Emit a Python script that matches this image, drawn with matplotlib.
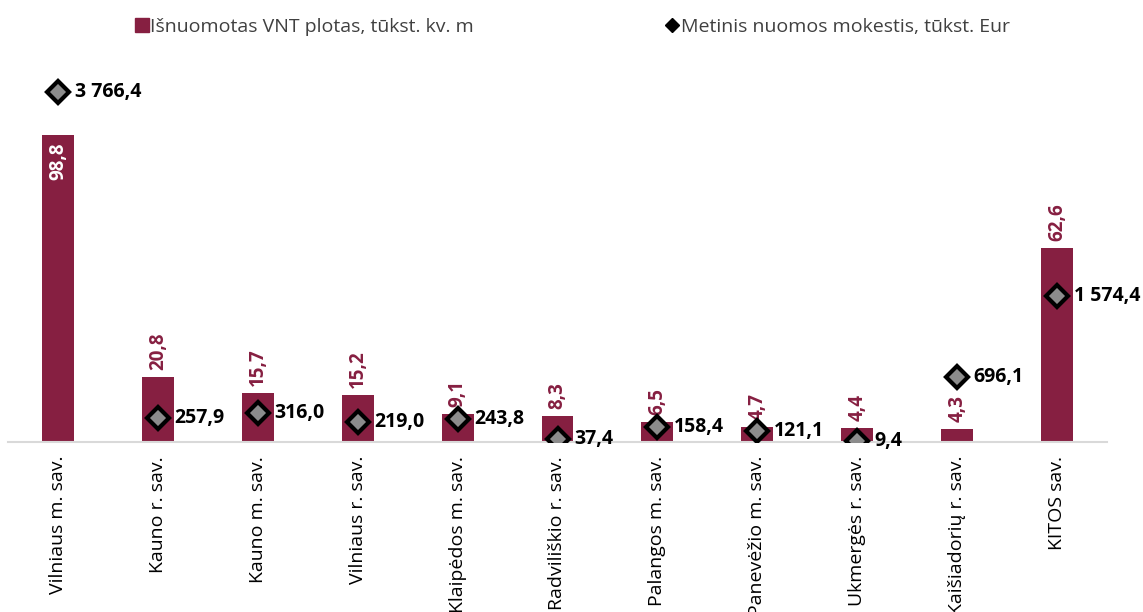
import matplotlib.pyplot as plt
from matplotlib.lines import Line2D
import numpy as np

plt.rcParams['font.family'] = ['Open Sans', 'DejaVu Sans']

categories = ['Vilniaus m. sav.', 'Kauno r. sav.', 'Kauno m. sav.', 'Vilniaus r. sav.',
              'Klaipėdos m. sav.', 'Radviliškio r. sav.', 'Palangos m. sav.',
              'Panevėžio m. sav.', 'Ukmergės r. sav.', 'Kaišiadorių r. sav.', 'KITOS sav.']
area = [98.8, 20.8, 15.7, 15.2, 9.1, 8.3, 6.5, 4.7, 4.4, 4.3, 62.6]
rent = [3766.4, 257.9, 316.0, 219.0, 243.8, 37.4, 158.4, 121.1, 9.4, 696.1, 1574.4]

bar_color = '#861F41'

def fmt(v):
    s = f"{v:,.1f}"
    return s.replace(',', ' ').replace('.', ',')

fig = plt.figure(figsize=(11.43, 6.12), dpi=100)
ax1 = fig.add_axes([8 / 1143, 170 / 612, 1099 / 1143, 382 / 612])
x = np.arange(len(categories))

ax1.bar(x, area, width=0.32, color=bar_color, zorder=2)
ax1.set_ylim(0, 123)
ax1.set_xlim(-0.5, len(categories) - 0.5)

for i, v in enumerate(area):
    if i == 0:
        ax1.annotate(fmt(v), (i, v), xytext=(0, -5), textcoords='offset points',
                     rotation=90, ha='center', va='top', color='white',
                     fontsize=13.5, fontweight='bold')
    else:
        ax1.annotate(fmt(v), (i, v), xytext=(0, 5), textcoords='offset points',
                     rotation=90, ha='center', va='bottom', color=bar_color,
                     fontsize=13.5, fontweight='bold')

ax2 = ax1.twinx()
ax2.plot(x, rent, linestyle='none', marker='D', markersize=11, markerfacecolor='#8C8C8C',
         markeredgecolor='black', markeredgewidth=3, zorder=3)
ax2.set_ylim(0, 4111)
for i, v in enumerate(rent):
    ax2.annotate(fmt(v), (i, v), xytext=(12, 0), textcoords='offset points',
                 ha='left', va='center', color='black', fontsize=14, fontweight='bold')

for ax in (ax1, ax2):
    for sp in ax.spines.values():
        sp.set_visible(False)
    ax.set_yticks([])
ax1.spines['bottom'].set_visible(True)
ax1.spines['bottom'].set_color('#D9D9D9')
ax1.spines['bottom'].set_linewidth(1.5)

ax1.set_xticks(x)
ax1.set_xticklabels(categories, rotation=90, fontsize=14)
ax1.tick_params(axis='x', length=0, pad=10)

handles = [
    Line2D([], [], linestyle='none', marker='s', markersize=10, color=bar_color),
    Line2D([], [], linestyle='none', marker='D', markersize=7, markerfacecolor='black',
           markeredgecolor='black'),
]
fig.legend(handles, ['Išnuomotas VNT plotas, tūkst. kv. m', 'Metinis nuomos mokestis, tūkst. Eur'],
           loc='center', bbox_to_anchor=(572 / 1143, 1 - 27 / 612), ncol=2, frameon=False,
           fontsize=14, handletextpad=0.05, columnspacing=9.8, labelcolor='#404040',
           handlelength=0.8)

fig.savefig('out.png', dpi=100)
